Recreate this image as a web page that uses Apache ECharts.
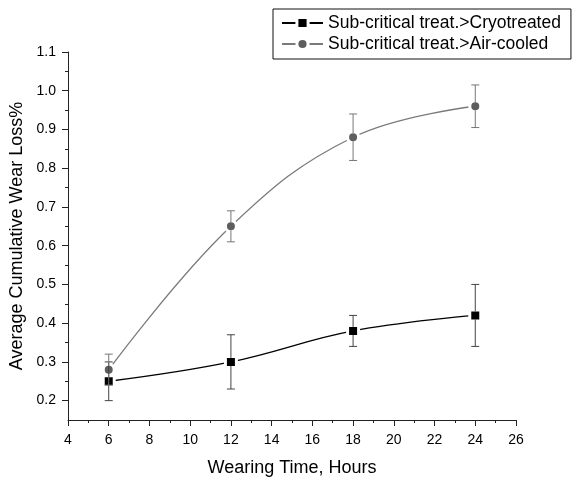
<!DOCTYPE html>
<html>
<head>
<meta charset="utf-8">
<script src="https://cdn.jsdelivr.net/npm/echarts@6/dist/echarts.min.js"></script>
<style>
  html, body { margin: 0; padding: 0; background: #fff; }
  #chart { width: 573px; height: 479px; }
</style>
</head>
<body>
<div id="chart"></div>
<script>
// data
const hours = [6, 12, 18, 24];
const cryoMean = [0.25, 0.30, 0.38, 0.42];
const cryoErr = [0.05, 0.07, 0.04, 0.08];
const airMean = [0.28, 0.65, 0.88, 0.96];
const airErr = [0.04, 0.04, 0.06, 0.055];

const seriesNames = ['Sub-critical treat.>Cryotreated', 'Sub-critical treat.>Air-cooled'];
const yTickLabels = [0.2, 0.3, 0.4, 0.5, 0.6, 0.7, 0.8, 0.9, 1.0, 1.1];
const yMinorTicks = [0.25, 0.35, 0.45, 0.55, 0.65, 0.75, 0.85, 0.95, 1.05];

const fontFamily = 'Liberation Sans, Arial, sans-serif';

const toPairs = (means) => hours.map((h, i) => [h, means[i]]);
const toBars = (means, errs) => hours.map((h, i) => [h, means[i], means[i] - errs[i], means[i] + errs[i]]);

// error bar: vertical line with caps, left open where the marker sits
const errorBar = (color) => (params, api) => {
    const mid = api.coord([api.value(0), api.value(1)]);
    const lo = api.coord([api.value(0), api.value(2)]);
    const hi = api.coord([api.value(0), api.value(3)]);
    const cap = 4;
    const hole = 4;
    const style = { stroke: color, lineWidth: 1 };
    return {
        type: 'group',
        children: [
            { type: 'line', shape: { x1: hi[0], y1: hi[1], x2: mid[0], y2: Math.min(mid[1] - hole, lo[1]) }, style },
            { type: 'line', shape: { x1: mid[0], y1: Math.max(mid[1] + hole, hi[1]), x2: lo[0], y2: lo[1] }, style },
            { type: 'line', shape: { x1: hi[0] - cap, y1: hi[1], x2: hi[0] + cap, y2: hi[1] }, style },
            { type: 'line', shape: { x1: lo[0] - cap, y1: lo[1], x2: lo[0] + cap, y2: lo[1] }, style }
        ]
    };
};

const chart = echarts.init(document.getElementById('chart'));
chart.setOption({
    animation: false,
    textStyle: { fontFamily: fontFamily },
    legend: {
        orient: 'vertical',
        left: 273,
        top: 9,
        padding: [5, 10, 6, 8],
        itemGap: 3,
        itemWidth: 41,
        itemHeight: 14,
        borderColor: '#111',
        borderWidth: 1,
        backgroundColor: '#fff',
        itemStyle: { borderColor: '#fff', borderWidth: 3 },
        textStyle: { fontSize: 17.5, color: '#000', fontFamily: fontFamily },
        data: seriesNames
    },
    grid: {
        left: 68,
        right: 57,
        top: 52,
        bottom: 59,
        outerBoundsMode: 'none'
    },
    xAxis: {
        type: 'value',
        min: 4,
        max: 26,
        interval: 2,
        name: 'Wearing Time, Hours',
        nameLocation: 'middle',
        nameGap: 39,
        nameTextStyle: { fontSize: 18, color: '#000' },
        axisLine: { show: true, lineStyle: { color: '#222', width: 1 } },
        axisTick: { show: true, length: 6, lineStyle: { color: '#222' } },
        minorTick: { show: true, splitNumber: 2, length: 3, lineStyle: { color: '#222' } },
        axisLabel: { fontSize: 14, color: '#000', margin: 13 },
        splitLine: { show: false }
    },
    yAxis: [{
        type: 'value',
        min: 0.15,
        max: 1.1,
        name: 'Average Cumulative Wear Loss%',
        nameLocation: 'middle',
        nameRotate: 90,
        nameGap: 34,
        nameTextStyle: { fontSize: 18, color: '#000' },
        axisLine: { show: true, lineStyle: { color: '#222', width: 1 } },
        axisTick: { show: true, length: 6, customValues: yTickLabels, lineStyle: { color: '#222' } },
        axisLabel: {
            fontSize: 14,
            color: '#000',
            margin: 12,
            customValues: yTickLabels,
            formatter: (v) => v.toFixed(1)
        },
        splitLine: { show: false }
    }, {
        // minor ticks only
        type: 'value',
        position: 'left',
        min: 0.15,
        max: 1.1,
        axisLine: { show: false },
        axisTick: { show: true, length: 3, customValues: yMinorTicks, lineStyle: { color: '#222' } },
        axisLabel: { show: false, customValues: yMinorTicks },
        splitLine: { show: false }
    }],
    series: [
        {
            name: seriesNames[0],
            type: 'line',
            smooth: 0.4,
            data: toPairs(cryoMean),
            symbol: 'rect',
            symbolSize: 11,
            z: 3,
            lineStyle: { color: '#000', width: 1.3 },
            itemStyle: { color: '#000', borderColor: '#fff', borderWidth: 3 }
        },
        {
            name: seriesNames[1],
            type: 'line',
            smooth: 0.4,
            data: toPairs(airMean),
            symbol: 'circle',
            symbolSize: 11,
            z: 3,
            lineStyle: { color: '#7a7a7a', width: 1.3 },
            itemStyle: { color: '#5e5e5e', borderColor: '#fff', borderWidth: 3 }
        },
        {
            type: 'custom',
            renderItem: errorBar('#444'),
            data: toBars(cryoMean, cryoErr),
            encode: { x: 0, y: [1, 2, 3] },
            z: 5,
            silent: true
        },
        {
            type: 'custom',
            renderItem: errorBar('#777'),
            data: toBars(airMean, airErr),
            encode: { x: 0, y: [1, 2, 3] },
            z: 5,
            silent: true
        }
    ]
});
</script>
</body>
</html>
